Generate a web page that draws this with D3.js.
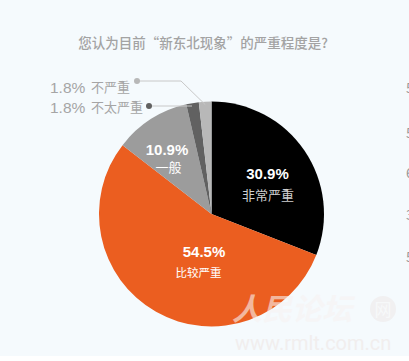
<!DOCTYPE html>
<html>
<head>
<meta charset="utf-8">
<style>
  body { margin: 0; background: #fff; }
  svg { display: block; font-family: "Noto Sans CJK SC", "Noto Sans", sans-serif; }
</style>
</head>
<body>
<svg width="409" height="361"></svg>
<script src="https://d3js.org/d3.v7.min.js"></script>
<script>
var title = "您认为目前“新东北现象”的严重程度是?";
var names = ["非常严重", "比较严重", "一般", "不太严重", "不严重"];
var values = [30.9, 54.5, 10.9, 1.8, 1.8];
var colors = ["#000000", "#eb5e20", "#9c9c9c", "#616161", "#b8b8b8"];
var edgeDigits = ["5", "5", "6", "3", "5"];

var svg = d3.select("svg");
var W = 409, H = 361;
var cx = 211.5, cy = 214, R = 112.5;

svg.append("rect").attr("width", W).attr("height", 356).attr("fill", "#f5fafd");

svg.append("text")
    .attr("x", 203).attr("y", 48)
    .attr("text-anchor", "middle")
    .attr("font-size", 13.5)
    .attr("font-weight", 500)
    .attr("fill", "#a3a3a3")
    .text(title);

var data = names.map(function(n, i){ return {name: n, value: values[i], color: colors[i]}; });

var pie = d3.pie().sort(null).value(function(d){ return d.value; });
var arc = d3.arc().innerRadius(0).outerRadius(R);
var arcs = pie(data);

var g = svg.append("g").attr("transform", "translate(" + cx + "," + cy + ")");
g.selectAll("path").data(arcs).enter().append("path")
    .attr("d", arc)
    .attr("fill", function(d){ return d.data.color; });

// inside labels for the big slices
var inside = [
  {i: 0, x: 267.5, y: 179, nx: 268, ny: 200, nameColor: "#d0d0d0", nameSize: 13},
  {i: 1, x: 204, y: 257, nx: 198.5, ny: 277, nameColor: "#ffffff", nameSize: 11.5},
  {i: 2, x: 167, y: 155, nx: 168.5, ny: 172, nameColor: "#ffffff", nameSize: 13}
];
inside.forEach(function(o){
  var d = arcs[o.i];
  svg.append("text")
      .attr("x", o.x).attr("y", o.y)
      .attr("text-anchor", "middle")
      .attr("font-size", 15).attr("font-weight", 600)
      .attr("font-family", "'Liberation Sans', Arial, sans-serif")
      .attr("fill", "#fff")
      .text(d.data.value.toFixed(1) + "%");
  svg.append("text")
      .attr("x", o.nx).attr("y", o.ny)
      .attr("text-anchor", "middle")
      .attr("font-size", o.nameSize)
      .attr("fill", o.nameColor)
      .text(d.data.name);
});

// outside labels for the two small slices
var outside = [
  {i: 4, y: 81, dot: 137, elbow: 181, textY: 93},
  {i: 3, y: 106, dot: 149, elbow: 192, textY: 113}
];
outside.forEach(function(o){
  var d = arcs[o.i];
  var a = (d.startAngle + d.endAngle) / 2;
  var r = o.i === 4 ? R - 3 : R;
  var px = cx + Math.sin(a) * r, py = cy - Math.cos(a) * r;
  var pts = o.i === 4 ? [[o.dot, o.y], [o.elbow, o.y], [px, py]] : [[o.dot, o.y], [o.elbow, o.y]];
  svg.append("path")
      .attr("d", d3.line()(pts))
      .attr("fill", "none")
      .attr("stroke", "#c8c8c8")
      .attr("stroke-width", 1);
  svg.append("circle").attr("cx", o.dot).attr("cy", o.y).attr("r", 3)
      .attr("fill", d.data.color);
  svg.append("text")
      .attr("x", 50).attr("y", o.textY)
      .attr("font-size", 15.5)
      .attr("font-family", "'Liberation Sans', Arial, sans-serif")
      .attr("fill", "#a5a5a5")
      .text(d.data.value.toFixed(1) + "%");
  svg.append("text")
      .attr("x", 91).attr("y", o.textY - 1)
      .attr("font-size", 13)
      .attr("fill", "#a5a5a5")
      .text(d.data.name);
});

// cropped numbers at the right edge
svg.selectAll(".edge").data(edgeDigits).enter().append("text")
    .attr("class", "edge")
    .attr("x", 406)
    .attr("y", function(d, i){ return [93, 138, 178, 220, 262][i]; })
    .attr("font-size", 14)
    .attr("fill", "#999")
    .text(function(d){ return d; });

// watermark
var wm = svg.append("g").attr("opacity", 0.6);
wm.append("text")
    .attr("x", 232).attr("y", 320)
    .attr("font-size", 30).attr("font-style", "italic").attr("font-weight", "bold")
    .attr("fill", "#f7f3f3")
    .attr("font-family", "Noto Sans CJK SC")
    .text("人民论坛");
wm.append("circle").attr("cx", 383).attr("cy", 309).attr("r", 13).attr("fill", "#efeaea");
wm.append("text")
    .attr("x", 383).attr("y", 316).attr("text-anchor", "middle")
    .attr("font-size", 17).attr("fill", "#f8f8f8")
    .text("网");
svg.append("text")
    .attr("x", 235).attr("y", 350)
    .attr("font-size", 20)
    .attr("fill", "#f1eeee")
    .attr("font-family", "Roboto, sans-serif")
    .text("www.rmlt.com.cn");
</script>
</body>
</html>
